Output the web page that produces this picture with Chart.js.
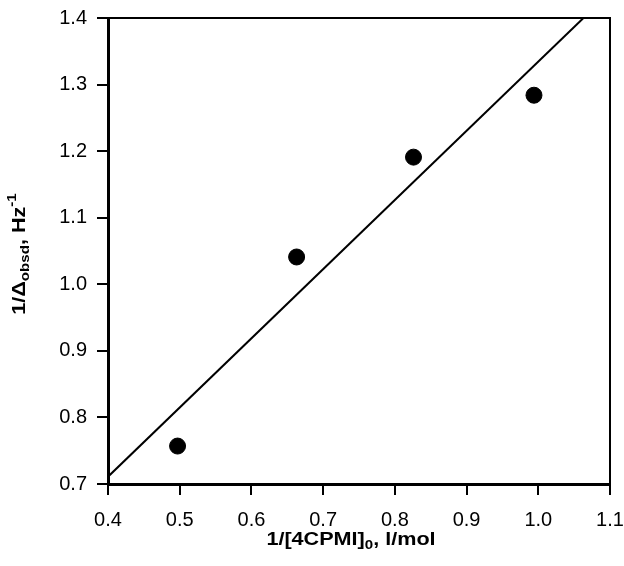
<!DOCTYPE html>
<html>
<head>
<meta charset="utf-8">
<script src="https://cdn.jsdelivr.net/npm/chart.js@4.4.0/dist/chart.umd.min.js"></script>
<style>
  html, body { margin: 0; padding: 0; background: #fff; }
  #wrap { width: 624px; height: 566px; }
</style>
</head>
<body>
<div id="wrap"><canvas id="c" width="624" height="566"></canvas></div>
<script>
// Measured points
const xValues = [0.497, 0.663, 0.826, 0.994];
const yValues = [0.757, 1.041, 1.191, 1.284];

// Fitted line ends
const fitX = [0.4, 1.063];
const fitY = [0.711, 1.4];

// Axis ticks
const xTicks = [0.4, 0.5, 0.6, 0.7, 0.8, 0.9, 1.0, 1.1];
const yTicks = [0.7, 0.8, 0.9, 1.0, 1.1, 1.2, 1.3, 1.4];

const FONT = "'Liberation Sans', Arial, Helvetica, sans-serif";

// Draw a label made of pieces with sub/superscripts
function drawRich(ctx, parts, size) {
  let total = 0;
  parts.forEach(p => {
    const s = p.kind ? size * 0.7 : size;
    ctx.font = `bold ${s}px ${FONT}`;
    p.w = ctx.measureText(p.text).width;
    total += p.w;
  });
  let x = -total / 2;
  parts.forEach(p => {
    const s = p.kind ? size * 0.7 : size;
    ctx.font = `bold ${s}px ${FONT}`;
    let dy = 0;
    if (p.kind === 'sub') dy = size * 0.3;
    if (p.kind === 'sup') dy = -size * 0.4;
    ctx.fillText(p.text, x, dy);
    x += p.w;
  });
}

const framePlugin = {
  id: 'frame',
  afterDraw(chart) {
    const { ctx, chartArea: a } = chart;
    ctx.save();
    ctx.strokeStyle = '#000';
    ctx.lineWidth = 2;
    ctx.beginPath();
    ctx.moveTo(a.left, a.top);
    ctx.lineTo(a.right, a.top);
    ctx.lineTo(a.right, a.bottom);
    ctx.stroke();

    ctx.fillStyle = '#000';
    ctx.textBaseline = 'middle';
    ctx.textAlign = 'left';

    // x axis title
    ctx.save();
    ctx.translate(351, 540);
    ctx.scale(1.2, 1);
    drawRich(ctx, [
      { text: '1/[4CPMI]' },
      { text: '0', kind: 'sub' },
      { text: ', l/mol' }
    ], 18);
    ctx.restore();

    // y axis title
    ctx.save();
    ctx.translate(20, 254);
    ctx.rotate(-Math.PI / 2);
    ctx.scale(1.2, 1);
    drawRich(ctx, [
      { text: '1/\u0394' },
      { text: 'obsd', kind: 'sub' },
      { text: ', Hz' },
      { text: '-1', kind: 'sup' }
    ], 18);
    ctx.restore();
    ctx.restore();
  }
};

const points = xValues.map((x, i) => ({ x: x, y: yValues[i] }));
const fit = fitX.map((x, i) => ({ x: x, y: fitY[i] }));

new Chart(document.getElementById('c'), {
  type: 'scatter',
  data: {
    datasets: [
      {
        label: 'data',
        data: points,
        backgroundColor: '#000',
        borderColor: '#000',
        pointRadius: 8,
        pointHoverRadius: 8
      },
      {
        label: 'fit',
        data: fit,
        showLine: true,
        borderColor: '#000',
        borderWidth: 2,
        pointRadius: 0
      }
    ]
  },
  options: {
    responsive: false,
    animation: false,
    layout: { padding: { top: 18, right: 0, left: 0, bottom: 0 } },
    plugins: {
      legend: { display: false },
      tooltip: { enabled: false }
    },
    scales: {
      x: {
        type: 'linear',
        min: 0.4,
        max: 1.1,
        afterFit: (s) => { s.height = 82; s.paddingRight = 14; },
        afterBuildTicks: (s) => { s.ticks = xTicks.map(v => ({ value: v })); },
        ticks: {
          color: '#000',
          padding: 13,
          font: { family: FONT, size: 20 },
          callback: (v) => Number(v).toFixed(1)
        },
        grid: { drawOnChartArea: false, drawTicks: true, tickLength: 11, color: '#000', lineWidth: 2 },
        border: { display: true, color: '#000', width: 3 }
      },
      y: {
        type: 'linear',
        min: 0.7,
        max: 1.4,
        afterFit: (s) => { s.width = 108; s.paddingTop = 0; },
        afterBuildTicks: (s) => { s.ticks = yTicks.map(v => ({ value: v })); },
        ticks: {
          color: '#000',
          padding: 10,
          font: { family: FONT, size: 20 },
          callback: (v) => Number(v).toFixed(1)
        },
        grid: { drawOnChartArea: false, drawTicks: true, tickLength: 11, color: '#000', lineWidth: 2 },
        border: { display: true, color: '#000', width: 3 }
      }
    }
  },
  plugins: [framePlugin]
});
</script>
</body>
</html>
